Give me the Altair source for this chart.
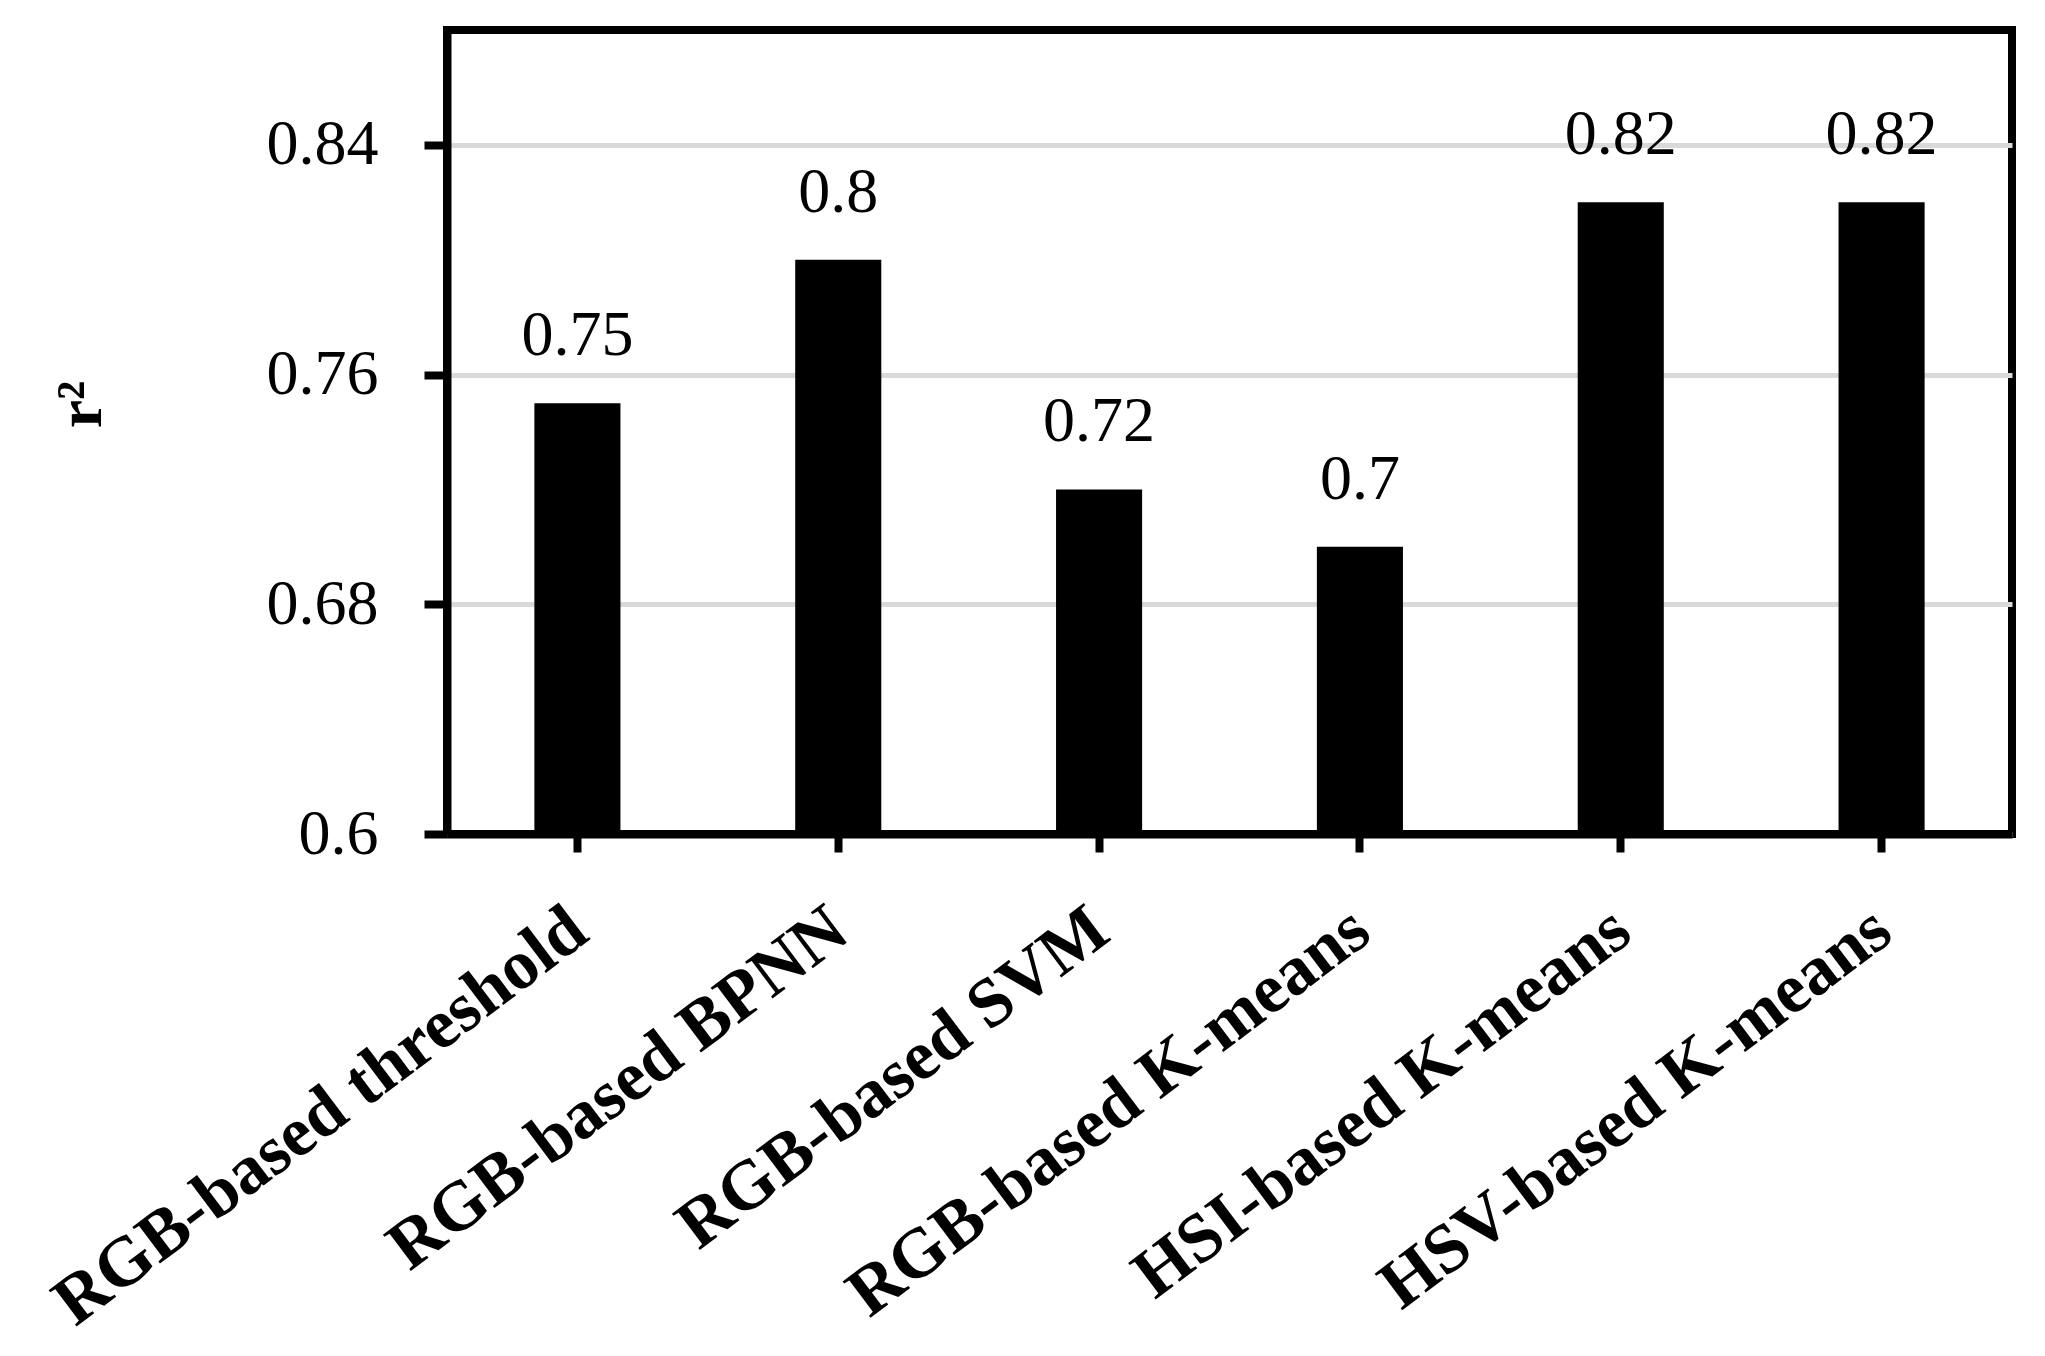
import altair as alt
import pandas as pd

categories = [
    "RGB-based threshold",
    "RGB-based BPNN",
    "RGB-based SVM",
    "RGB-based K-means",
    "HSI-based K-means",
    "HSV-based K-means",
]
values = [0.75, 0.80, 0.72, 0.70, 0.82, 0.82]
y_ticks = [0.6, 0.68, 0.76, 0.84]
y_domain = [0.6, 0.88]

df = pd.DataFrame({"method": categories, "r2": values})

SERIF = "Liberation Serif"

x_enc = alt.X(
    "method:N",
    sort=categories,
    title=None,
    scale=alt.Scale(paddingInner=0.67, paddingOuter=0.335),
    axis=alt.Axis(
        labelAngle=-37,
        labelAlign="right",
        labelBaseline="alphabetic",
        labelFont=SERIF,
        labelFontWeight="bold",
        labelFontSize=70,
        labelColor="black",
        labelPadding=86,
        labelOffset=14,
        labelLimit=2000,
        labelOverlap=False,
        tickSize=18,
        tickWidth=8,
        tickColor="black",
        domainColor="black",
        domainWidth=8,
        grid=False,
    ),
)

y_enc = alt.Y(
    "r2:Q",
    scale=alt.Scale(domain=y_domain, nice=False, zero=False),
    axis=alt.Axis(
        values=y_ticks,
        format=".2~f",
        title="r²",
        titleFont=SERIF,
        titleFontSize=64,
        titleFontWeight="bold",
        titleColor="black",
        titleAngle=270,
        titleX=-347,
        titleY=374,
        titleAlign="center",
        titleBaseline="alphabetic",
        labelFont=SERIF,
        labelFontSize=64,
        labelColor="black",
        labelPadding=46,
        tickSize=23,
        tickWidth=8,
        tickColor="black",
        domainColor="black",
        domainWidth=8,
        gridColor="#d9d9d9",
        gridWidth=5,
    ),
)

bars = alt.Chart(df).mark_bar(color="black").encode(
    x=x_enc, y=y_enc, y2=alt.datum(y_domain[0])
)

text = alt.Chart(df).mark_text(
    font=SERIF, fontSize=64, baseline="alphabetic", dy=-48, color="black"
).encode(x=x_enc, y=y_enc, text=alt.Text("r2:Q", format=".2~f"))

chart = (
    alt.layer(bars, text)
    .properties(
        width=1565,
        height=804,
        padding={"left": 439, "top": 22, "right": 25, "bottom": 514},
        autosize=alt.AutoSizeParams(type="none"),
        background="white",
    )
    .configure_view(stroke="black", strokeWidth=8)
)

chart.save("out.html", embed_options={"renderer": "svg", "actions": False})
